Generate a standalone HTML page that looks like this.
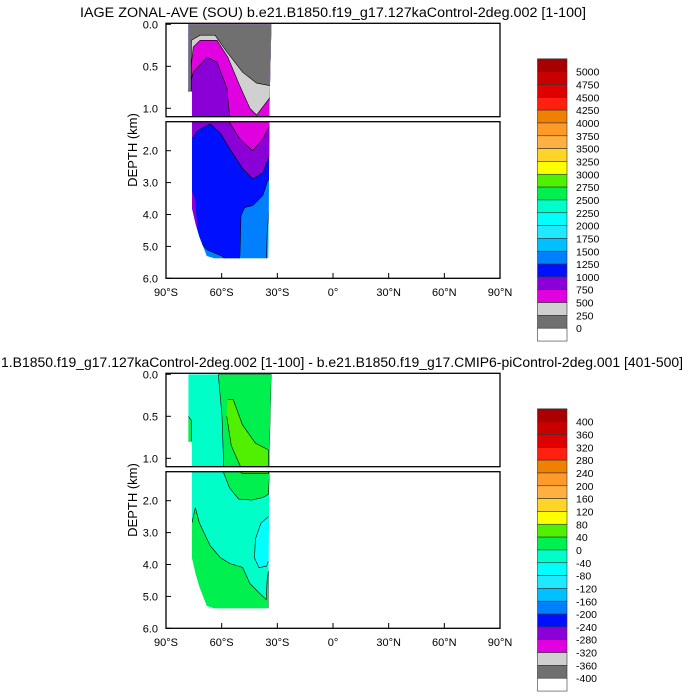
<!DOCTYPE html>
<html><head><meta charset="utf-8"><style>
html,body{margin:0;padding:0;background:#fff;width:700px;height:700px;overflow:hidden;}
svg{display:block;font-family:"Liberation Sans",sans-serif;}
</style></head><body>
<svg id="chart" width="700" height="700" viewBox="0 0 700 700" xmlns="http://www.w3.org/2000/svg">
<text x="333" y="17" font-size="13.5" text-anchor="middle" textLength="506" lengthAdjust="spacingAndGlyphs">IAGE ZONAL-AVE (SOU) b.e21.B1850.f19_g17.127kaControl-2deg.002 [1-100]</text>
<text x="1" y="367" font-size="13.5" textLength="682" lengthAdjust="spacingAndGlyphs">1.B1850.f19_g17.127kaControl-2deg.002 [1-100] - b.e21.B1850.f19_g17.CMIP6-piControl-2deg.001 [401-500]</text>
<g id="plots"></g>
</svg>
<script>
// ---- data: top plot (ideal age, years) contour boundaries (lat, depth km) ----
const topOutlineLat = [-78,-33.2,-34.3,-34.8,-64,-68,-70,-72,-74,-76,-76,-78];
const topOutlineDepth = [0,0,1.0,5.37,5.37,5.3,5.0,4.7,4.3,3.8,0.8,0.8];
const b1500Lat = [-78,-36,-35.5,-34.5,-33];
const b1500Depth = [6,6,4.6,3.9,3.8];
const b1250Lat = [-78,-72,-71,-68,-64,-60,-58,-54,-52,-50.2,-49.6,-47.6,-43.3,-37.8,-35.4,-33];
const b1250Depth = [6,6,4.9,5.1,5.2,5.3,5.4,6,6,5.28,4.03,3.78,3.72,3.4,2.97,2.8];
const b1000Lat = [-78,-75.3,-73.2,-66.2,-60.8,-55.6,-48.7,-43.3,-37.8,-34.3,-33];
const b1000Depth = [1.6,1.59,1.37,1.16,1.44,1.94,2.56,2.88,2.69,2.16,2.0];
const tailLat = [-76.5,-74.5,-73,-76.5];
const tailDepth = [3.2,3.5,4.4,4.4];
const b750Lat = [-78,-75.3,-67.8,-62.5,-57.2,-55.6,-50.3,-43.3,-37.8,-34.3,-33];
const b750Depth = [0.8,0.57,0.39,0.45,0.76,1.125,1.625,2.0,1.63,1.22,1.1];
const b500Lat = [-78,-75.3,-71.6,-62.5,-56.7,-50.3,-44.8,-41.2,-34.3,-33];
const b500Depth = [0.8,0.27,0.19,0.19,0.39,0.73,1.0,1.08,0.88,0.85];
const b250Lat = [-78,-76.4,-76.3,-71.6,-63.6,-57.2,-48.7,-41.2,-34.3,-33];
const b250Depth = [0.8,0.8,0.19,0.13,0.13,0.33,0.57,0.70,0.73,0.73];
// ---- data: bottom plot (difference) regions ----
const greenTopLat = [-61.8,-33.2,-34.8,-37.8,-43.8,-50.8,-55.8,-58.8,-59.8,-61.8];
const greenTopDepth = [0,0,1.8,1.9,1.98,1.95,1.6,1.15,0.5,0];
const brightLat = [-56.8,-53.8,-48.8,-41.8,-34.8,-34.8,-48.8,-54.8,-57.3];
const brightDepth = [0.3,0.3,0.6,0.82,0.9,1.15,1.15,0.85,0.5];
const greenLeftLat = [-78,-76.3,-76.3,-78];
const greenLeftDepth = [0.5,0.55,0.8,0.8];
const greenLowLat = [-76,-74.2,-72,-66.2,-60.8,-55.6,-48.7,-44.8,-39.6,-36,-35.5,-34.8,-34.8,-76];
const greenLowDepth = [2.69,2.22,2.7,3.41,3.78,3.97,4.09,4.6,4.9,5.1,4.5,4.2,6,6];
const cyanLat = [-34.8,-38.8,-41.8,-42.3,-39.8,-35.8,-34.8];
const cyanDepth = [2.5,2.7,3.2,3.8,4.1,4.05,3.9];
// ---- colorbars ----
const colors = ["#a80000","#c80000","#e00000","#ff2010","#f08000","#ff9a28","#ffb040","#ffd428","#ffff00","#50f000","#00f050","#00ffc8","#00ffff","#20e8ff","#00c0ff","#0080ff","#0010ff","#8c00d8","#e000e0","#d0d0d0","#707070","#ffffff"];
const topLevels = ["5000","4750","4500","4250","4000","3750","3500","3250","3000","2750","2500","2250","2000","1750","1500","1250","1000","750","500","250","0"];
const botLevels = ["400","360","320","280","240","200","160","120","80","40","0","-40","-80","-120","-160","-200","-240","-280","-320","-360","-400"];
const xTicks = [-90,-60,-30,0,30,60,90];
const xTickLabels = ["90°S","60°S","30°S","0°","30°N","60°N","90°N"];
const yTicksUp = [0,0.5,1.0];
const yTicksLow = [2,3,4,5,6];

const NS="http://www.w3.org/2000/svg";
const root=document.getElementById('plots');
function mk(tag,attrs,parent){const e=document.createElementNS(NS,tag);for(const k in attrs)e.setAttribute(k,attrs[k]);(parent||root).appendChild(e);return e;}
function X(lat){return 166+(lat+90)*334/180;}
function Y(d,panel,oy){
  const dc = panel===0 ? Math.max(-0.2,Math.min(1.6,d)) : Math.max(0.2,Math.min(6.1,d));
  return (panel===0?24.3+84*dc:278.3-31.9*(6-dc))+oy;
}
const panels=[[23.3,116.7],[121.7,278.3]];
function pts(lats,deps,panel,oy){return lats.map((l,i)=>X(l).toFixed(1)+','+Y(deps[i],panel,oy).toFixed(1)).join(' ');}
function surfPts(lats,deps,panel,oy){return pts(lats,deps,panel,oy)+' '+X(lats[lats.length-1])+','+Y(-0.1,panel,oy)+' '+X(lats[0])+','+Y(-0.1,panel,oy);}
let cid=0;
function drawPlot(oy,outLat,outDep,layers,name){
  for(let p=0;p<2;p++){
    const c1='pc'+(cid++), c2='oc'+(cid++);
    const defs=mk('defs',{});
    const cp=mk('clipPath',{id:c1},defs);
    mk('rect',{x:166,y:panels[p][0]+oy,width:334,height:panels[p][1]-panels[p][0]},cp);
    const cp2=mk('clipPath',{id:c2},defs);
    mk('polygon',{points:pts(outLat,outDep,p,oy)},cp2);
    const g1=mk('g',{'clip-path':'url(#'+c1+')'});
    const g=mk('g',{'clip-path':'url(#'+c2+')'},g1);
    
    
    mk('polygon',{points:pts(outLat,outDep,p,oy),fill:layers.base},g);
    layers.polys.forEach(L=>{
      const e=mk('polygon',{points:L.surf?surfPts(L.lat,L.dep,p,oy):pts(L.lat,L.dep,p,oy),fill:L.color},g);
      
      
      if(L.line) mk('polyline',{points:pts(L.lat,L.dep,p,oy),fill:'none',stroke:'#000','stroke-width':0.6},g);
    });
    const fr=mk('rect',{x:166,y:panels[p][0]+oy,width:334,height:panels[p][1]-panels[p][0],fill:'none',stroke:'#000','stroke-width':1.3});
    
    
  }
  [[yTicksUp,0],[yTicksLow,1]].forEach(([arr,p])=>arr.forEach(d=>{
    const y=Y(d,p,oy);
    mk('line',{x1:166,x2:171,y1:y,y2:y,stroke:'#000','stroke-width':1});
    const t=mk('text',{x:158,y:y+4,'font-size':11,'text-anchor':'end'});t.textContent=d.toFixed(1);
    
    
  }));
  xTicks.forEach((v,i)=>{
    const x=X(v);
    mk('line',{x1:x,x2:x,y1:278.3+oy,y2:273+oy,stroke:'#000','stroke-width':1});
    const t=mk('text',{x:x,y:296+oy,'font-size':11,'text-anchor':'middle'});t.textContent=xTickLabels[i];
    
    
  });
  const yt=mk('text',{x:0,y:0,'font-size':13,'text-anchor':'middle',transform:'translate(137,'+(150+oy)+') rotate(-90)'});
  yt.textContent='DEPTH (km)';
  
  
}
function colorbar(oy,labels,name){
  const top=58.8+oy,h=12.83;
  colors.forEach((c,i)=>{
    const r=mk('rect',{x:537.5,y:top+i*h,width:29.5,height:h,fill:c,stroke:'#333','stroke-width':0.6});
    
    
  });
  labels.forEach((l,i)=>{
    const t=mk('text',{x:576,y:top+(i+1)*h+4,'font-size':10.5});t.textContent=l;
    
    
  });
}
drawPlot(0,topOutlineLat,topOutlineDepth,{base:'#00c0ff',polys:[
  {lat:b1500Lat,dep:b1500Depth,color:'#0080ff',surf:true,line:true},
  {lat:b1250Lat,dep:b1250Depth,color:'#0010ff',surf:true,line:true},
  {lat:b1000Lat,dep:b1000Depth,color:'#8c00d8',surf:true,line:true},
  {lat:tailLat,dep:tailDepth,color:'#8c00d8'},
  {lat:b750Lat,dep:b750Depth,color:'#e000e0',surf:true,line:true},
  {lat:b500Lat,dep:b500Depth,color:'#d0d0d0',surf:true,line:true},
  {lat:b250Lat,dep:b250Depth,color:'#707070',surf:true,line:true}
]},'age-plot');
drawPlot(350,topOutlineLat,topOutlineDepth,{base:'#00ffc8',polys:[
  {lat:greenTopLat,dep:greenTopDepth,color:'#00f050',line:true},
  {lat:brightLat,dep:brightDepth,color:'#50f000',line:true},
  {lat:greenLeftLat,dep:greenLeftDepth,color:'#00f050',line:true},
  {lat:greenLowLat,dep:greenLowDepth,color:'#00f050',line:true},
  {lat:cyanLat,dep:cyanDepth,color:'#00ffff',line:true}
]},'diff-plot');
colorbar(0,topLevels,'age-colorbar');
colorbar(350,botLevels,'diff-colorbar');
</script>
</body></html>
